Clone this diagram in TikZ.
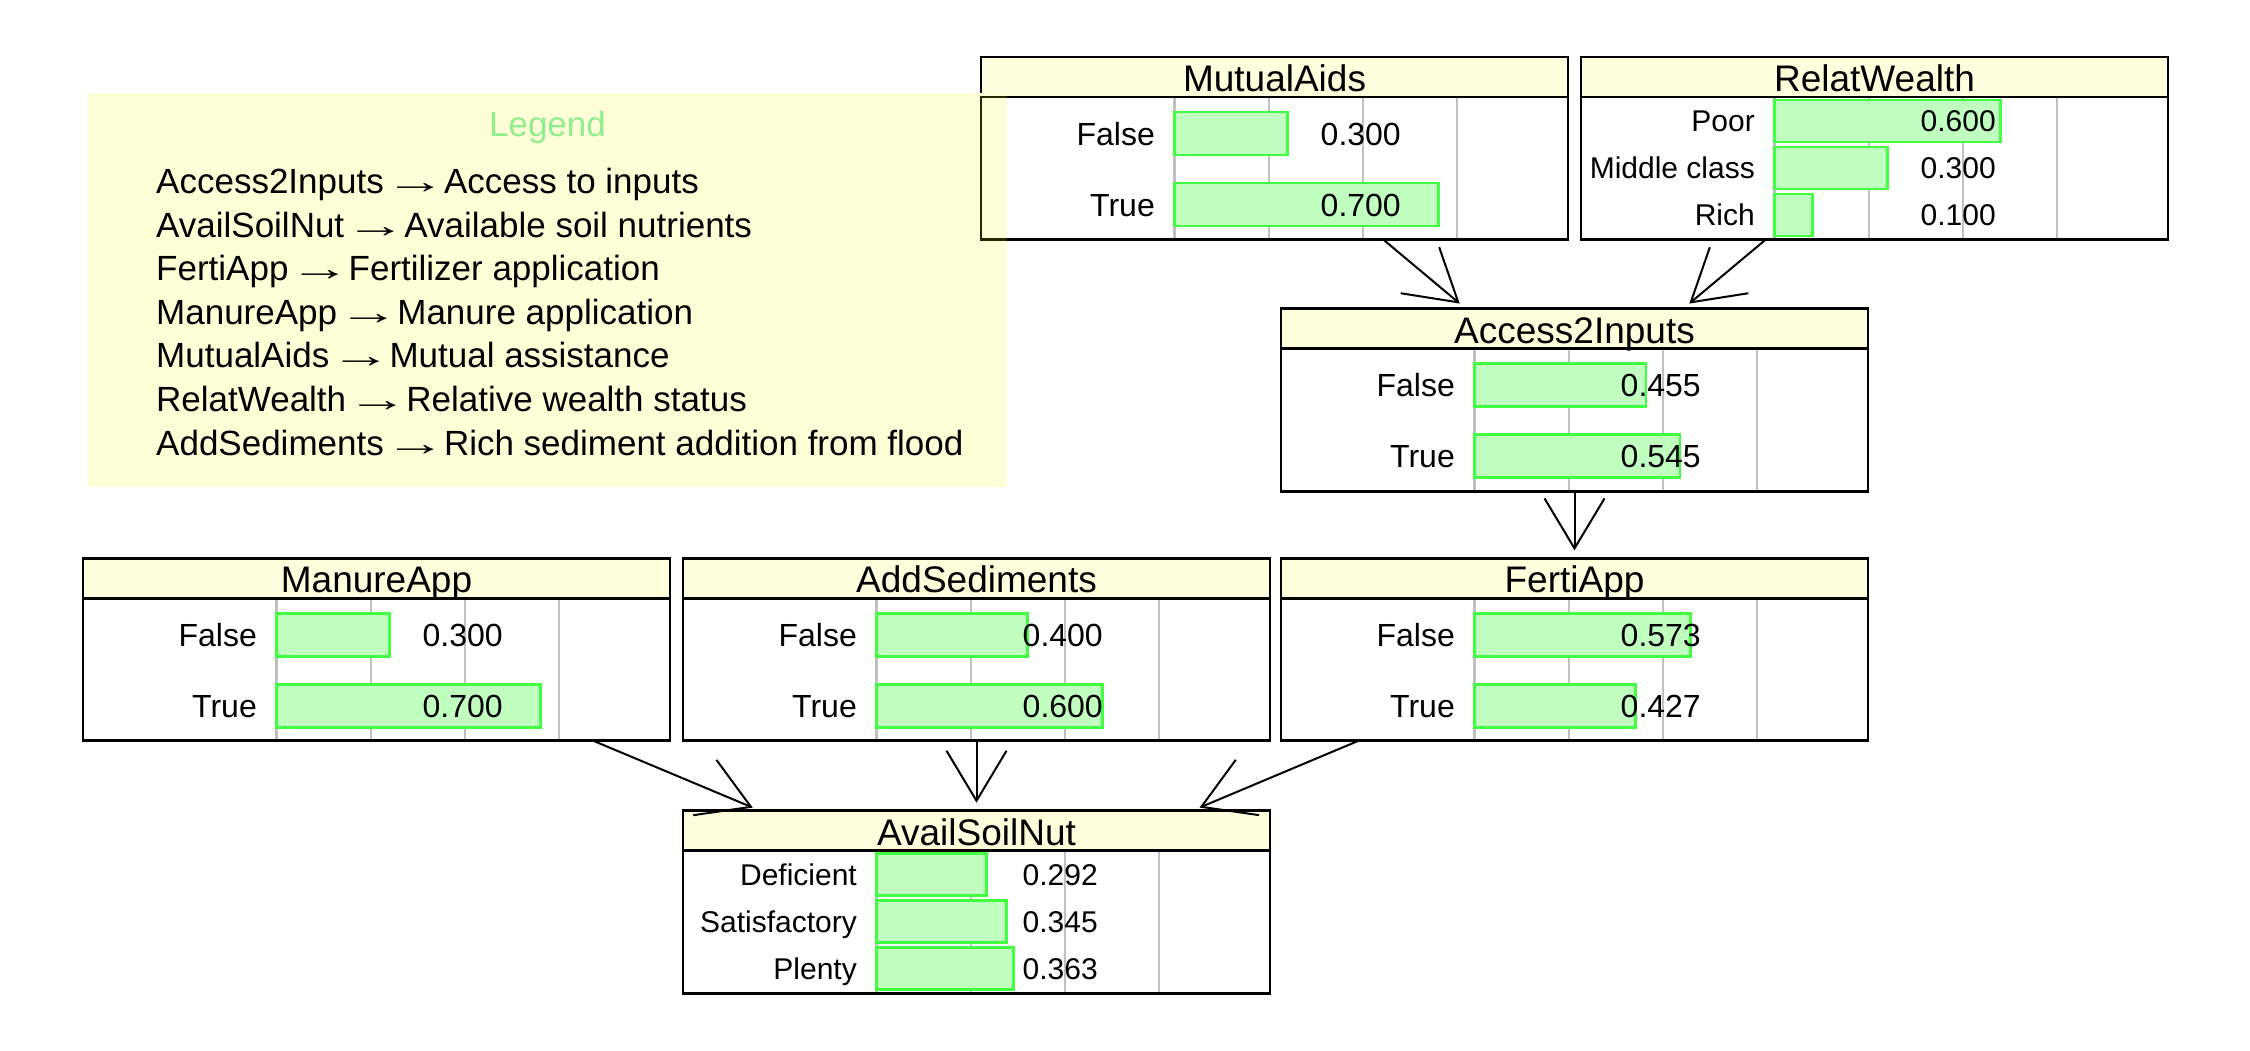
\documentclass[tikz,border=0pt]{standalone}
\usepackage{fontspec}
\setmainfont{Liberation Sans}
\usetikzlibrary{arrows.meta}
\definecolor{hdr}{RGB}{255,255,222}
\definecolor{legbg}{RGB}{255,255,215}
\definecolor{barfill}{RGB}{192,255,192}
\definecolor{barline}{RGB}{64,255,64}
\definecolor{gridc}{RGB}{192,192,192}
\definecolor{legtitle}{RGB}{144,238,144}
\definecolor{shadeline}{RGB}{42,40,0}
\newcommand\legarr{\hspace{-9pt}\scalebox{1.75}[1]{→}\hspace{-11.5pt}}
\tikzset{
  boxbg/.style={rectangle, fill=white, minimum width=587pt, minimum height=182.5pt,
    inner sep=0pt, outer sep=0pt, anchor=north west},
  frame/.style={line width=2.7pt},
  gridl/.style={gridc, line width=2.2pt},
  barr/.style={fill=barfill, draw=barline, line width=2.6pt},
  ttl/.style={inner sep=0pt, anchor=base, font=\fontsize{37}{40}\selectfont},
  labA/.style={inner sep=0pt, anchor=base east, font=\fontsize{32}{36}\selectfont},
  valA/.style={inner sep=0pt, anchor=base west, font=\fontsize{32}{36}\selectfont},
  labB/.style={inner sep=0pt, anchor=base east, font=\fontsize{30}{34}\selectfont},
  valB/.style={inner sep=0pt, anchor=base west, font=\fontsize{30}{34}\selectfont},
  legtxt/.style={inner sep=0pt, anchor=base west, font=\fontsize{35}{40}\selectfont},
  edge/.style={line width=2pt, -{Straight Barb[length=50pt,width=60pt]}, shorten >=8pt},
}
% name, left, top, title
\newcommand\nethead[4]{%
  \node[boxbg] (#1) at (#2,#3) {};
  \fill[hdr] (#2,#3) rectangle ({#2+587},{#3+40});
  \foreach \k in {0,1,2,3}
    \draw[gridl] ({#2+193.5+94.25*\k},{#3+40}) -- ({#2+193.5+94.25*\k},{#3+182.5});
  \node[ttl] (#1-title) at ({#2+293.5},{#3+34.5}) {#4};
}
% rowname, left, top, center offset, bar height, label, value, style suffix, baseline offset
\newcommand\netrow[9]{%
  \draw[barr] ({#2+193.5},{#3+#4-#5/2}) rectangle ({#2+193.5+377*#7},{#3+#4+#5/2});
  \node[lab#8] (#1-lab) at ({#2+174},{#3+#4+#9}) {#6};
  \node[val#8] (#1-val) at ({#2+339.5},{#3+#4+#9}) {#7};
}
% name, left, top
\newcommand\netframe[3]{%
  \draw[frame] (#2,{#3+40}) -- ({#2+587},{#3+40});
  \draw[frame] (#1.north west) rectangle (#1.south east);
}
\begin{document}
\begin{tikzpicture}[x=1pt,y=-1pt]
\useasboundingbox (0,0) rectangle (2250,1050);
\fill[white] (0,0) rectangle (2250,1050);

% MutualAids
\nethead{mutual}{981}{57}{MutualAids}
\netrow{mutualF}{981}{57}{76.5}{43}{False}{0.300}{A}{11.5}
\netrow{mutualT}{981}{57}{147.5}{43}{True}{0.700}{A}{11.5}
\netframe{mutual}{981}{57}

% RelatWealth
\nethead{relat}{1581}{57}{RelatWealth}
\netrow{relatP}{1581}{57}{64}{42}{Poor}{0.600}{B}{10.7}
\netrow{relatM}{1581}{57}{110.9}{42}{Middle class}{0.300}{B}{10.7}
\netrow{relatR}{1581}{57}{157.8}{42}{Rich}{0.100}{B}{10.7}
\netframe{relat}{1581}{57}

% Access2Inputs
\nethead{access}{1281}{308.7}{Access2Inputs}
\netrow{accessF}{1281}{308.7}{76.5}{43}{False}{0.455}{A}{11.5}
\netrow{accessT}{1281}{308.7}{147.5}{43}{True}{0.545}{A}{11.5}
\netframe{access}{1281}{308.7}

% ManureApp
\nethead{manure}{83}{558.3}{ManureApp}
\netrow{manureF}{83}{558.3}{76.5}{43}{False}{0.300}{A}{11.5}
\netrow{manureT}{83}{558.3}{147.5}{43}{True}{0.700}{A}{11.5}
\netframe{manure}{83}{558.3}

% AddSediments
\nethead{addsed}{683}{558.3}{AddSediments}
\netrow{addsedF}{683}{558.3}{76.5}{43}{False}{0.400}{A}{11.5}
\netrow{addsedT}{683}{558.3}{147.5}{43}{True}{0.600}{A}{11.5}
\netframe{addsed}{683}{558.3}

% FertiApp
\nethead{ferti}{1281}{558.3}{FertiApp}
\netrow{fertiF}{1281}{558.3}{76.5}{43}{False}{0.573}{A}{11.5}
\netrow{fertiT}{1281}{558.3}{147.5}{43}{True}{0.427}{A}{11.5}
\netframe{ferti}{1281}{558.3}

% AvailSoilNut
\nethead{avail}{683}{810.7}{AvailSoilNut}
\netrow{availD}{683}{810.7}{64}{42}{Deficient}{0.292}{B}{10.7}
\netrow{availS}{683}{810.7}{110.9}{42}{Satisfactory}{0.345}{B}{10.7}
\netrow{availP}{683}{810.7}{157.8}{42}{Plenty}{0.363}{B}{10.7}
\netframe{avail}{683}{810.7}

% Legend (drawn over the left edge of MutualAids)
\node[fill=legbg, inner sep=0pt, outer sep=0pt, minimum width=919pt, minimum height=394pt,
      anchor=north west] (legend) at (88,93) {};
\draw[shadeline, line width=2.7pt] (1006.5,97) -- (981,97) -- (981,239.5) -- (1006.5,239.5);
\node[inner sep=0pt, anchor=base, text=legtitle, font=\fontsize{35}{40}\selectfont]
  (legtitle) at (547.5,136.7) {Legend};
\node[legtxt] (leg1) at (156,193.5) {Access2Inputs \legarr{} Access to inputs};
\node[legtxt] (leg2) at (156,237.1) {AvailSoilNut \legarr{} Available soil nutrients};
\node[legtxt] (leg3) at (156,280.7) {FertiApp \legarr{} Fertilizer application};
\node[legtxt] (leg4) at (156,324.3) {ManureApp \legarr{} Manure application};
\node[legtxt] (leg5) at (156,367.9) {MutualAids \legarr{} Mutual assistance};
\node[legtxt] (leg6) at (156,411.5) {RelatWealth \legarr{} Relative wealth status};
\node[legtxt] (leg7) at (156,455.1) {AddSediments \legarr{} Rich sediment addition from flood};

% Links
\draw[edge] (mutual) -- (access);
\draw[edge] (relat) -- (access);
\draw[edge] (access) -- (ferti);
\draw[edge] (manure) -- (avail);
\draw[edge] (addsed) -- (avail);
\draw[edge] (ferti) -- (avail);
\end{tikzpicture}
\end{document}
